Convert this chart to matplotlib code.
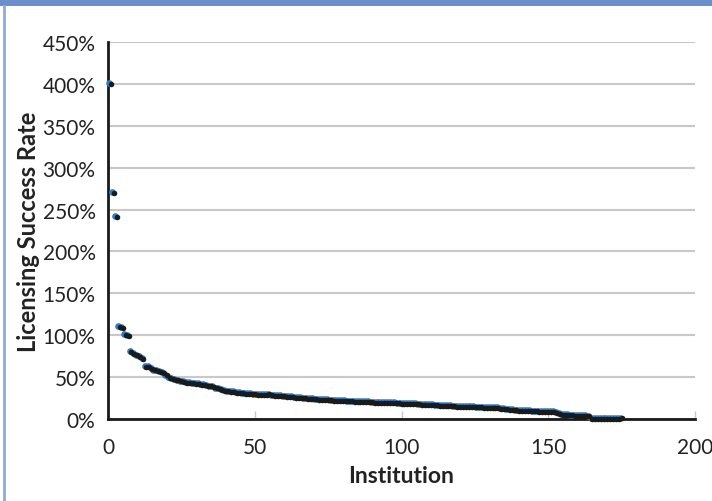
import matplotlib.pyplot as plt
import matplotlib.transforms as mtransforms
from matplotlib.lines import Line2D
from matplotlib.patches import Rectangle
from matplotlib.ticker import FuncFormatter, MultipleLocator

# licensing success rate (%) per institution, sorted high to low
institution = list(range(1, 176))
success_rate = [
    400, 270, 241,
    110, 109, 100, 99,
    80, 78, 76, 74, 72,
    62, 62, 60, 58, 57, 56, 55, 52,
    49, 48, 47, 46, 45, 44, 43.5, 43, 42.5, 42,
    41.5, 41, 40.5, 40, 39, 38, 36.5, 35.5, 34.5, 33.5,
    33, 32.5, 32, 31.5, 31, 30.5, 30.2, 30, 29.7, 29.4,
    29.2, 29, 28.8, 28.6, 29.3, 28.2, 27.8, 27.5, 27.2, 27,
    26.6, 26.3, 26, 25.6, 25.3, 25, 24.6, 24.3, 24, 23.8,
    23.5, 23.2, 23, 22.8, 22.6, 22.3, 22.1, 21.9, 21.7, 21.5,
    21.3, 21.1, 21, 20.8, 20.6, 20.4, 20.2, 20.1, 20, 19.8,
    19.6, 19.5, 19.3, 19.2, 19, 18.9, 18.8, 19.2, 18.6, 18.5,
    18.4, 18.2, 18, 17.8, 17.6, 17.4, 17.2, 17, 16.8, 16.6,
    16.4, 16.2, 16, 15.8, 15.6, 15.4, 15.2, 15, 14.8, 14.6,
    14.4, 14.3, 14.2, 14.1, 14, 13.9, 13.8, 13.7, 13.6, 13.5,
    13.4, 13.2, 13, 12.5, 12, 11.5, 11, 10.6, 10.3, 10,
    9.8, 9.6, 9.4, 9.3, 9.2, 9, 8.9, 8.8, 8.7, 8.6,
    8.4, 8.2, 7.5, 6, 5, 4.8, 4.5, 4.3, 4.2, 4,
    3.8, 3.6, 3.4, 3.2,
    0, 0, 0, 0, 0, 0, 0, 0.2, 0.4, 0.6, 0.8,
]

plt.rcParams["font.family"] = ["Lato", "DejaVu Sans"]

fig = plt.figure(figsize=(7.12, 5.02), dpi=100)
ax = fig.add_axes([0.1517, 0.1633, 0.8245, 0.751])

# frame of the figure: blue band on top, thin blue rule on the left
fig.patches.append(Rectangle((0, 1 - 7 / 502), 1, 7 / 502, transform=fig.transFigure,
                             facecolor="#6b8fc9", edgecolor="none"))
fig.lines.append(Line2D([4 / 712, 4 / 712], [0, 1 - 7 / 502], transform=fig.transFigure,
                        color="#8eaadb", lw=2))

# blue shadow behind each black dot
shadow = mtransforms.offset_copy(ax.transData, fig=fig, x=-1.5, y=0.8, units="dots")
ax.plot(institution, success_rate, "o", ms=4.8, color="#2f7fc8", mec="none",
        transform=shadow, clip_on=False, zorder=3)
ax.plot(institution, success_rate, "o", ms=4.0, color="#1a1a1a", mec="none",
        clip_on=False, zorder=4)

ax.set_xlim(0, 200)
ax.set_ylim(0, 450)
ax.xaxis.set_major_locator(MultipleLocator(50))
ax.yaxis.set_major_locator(MultipleLocator(50))
ax.yaxis.set_major_formatter(FuncFormatter(lambda v, p: f"{v:.0f}%"))

ax.grid(axis="y", color="#c8c8c8", lw=1.5)
ax.set_axisbelow(True)
for side in ["top", "right"]:
    ax.spines[side].set_visible(False)
for side in ["left", "bottom"]:
    ax.spines[side].set_color("#1a1a1a")
    ax.spines[side].set_linewidth(2)

ax.tick_params(axis="y", length=0, pad=9, labelsize=15, labelcolor="#222222")
ax.tick_params(axis="x", direction="in", length=6, width=1, color="#c8c8c8",
               pad=13, labelsize=15, labelcolor="#222222")

ax.set_xlabel("Institution", fontsize=16.5, fontweight="bold", color="#222222", labelpad=6)
ax.set_ylabel("Licensing Success Rate", fontsize=17, fontweight="bold", color="#222222",
              labelpad=2)

fig.savefig("out.png", dpi=100)
